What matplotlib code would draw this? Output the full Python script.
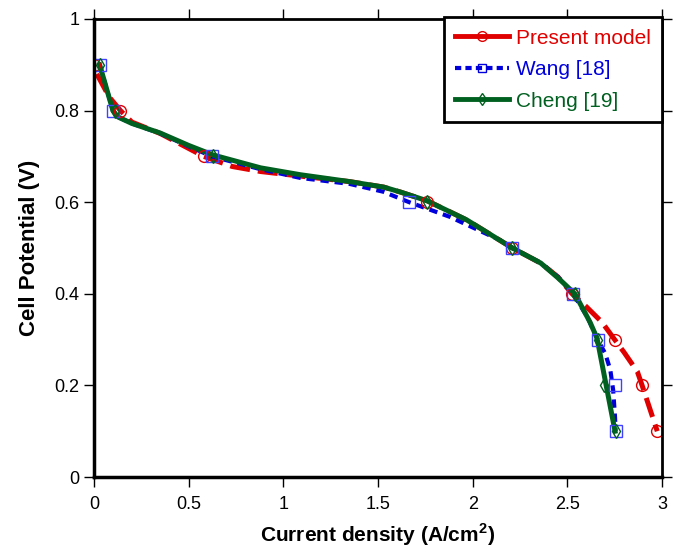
import matplotlib
matplotlib.use('Agg')
import matplotlib.pyplot as plt

plt.rcParams['font.family'] = ['Liberation Sans', 'DejaVu Sans']
plt.rcParams['mathtext.fontset'] = 'custom'
plt.rcParams['mathtext.rm'] = 'Liberation Sans'
plt.rcParams['mathtext.bf'] = 'Liberation Sans:bold'

# measured points (markers)
present_i = [0.0, 0.14, 0.58, 1.76, 2.21, 2.525, 2.75, 2.895, 2.975]
present_v = [0.9, 0.8, 0.7, 0.6, 0.5, 0.4, 0.3, 0.2, 0.1]
wang_i = [0.03, 0.10, 0.623, 1.665, 2.21, 2.53, 2.66, 2.75, 2.755]
wang_v = [0.9, 0.8, 0.7, 0.6, 0.5, 0.4, 0.3, 0.2, 0.1]
cheng_i = [0.03, 0.11, 0.63, 1.76, 2.21, 2.54, 2.66, 2.695, 2.755]
cheng_v = [0.9, 0.8, 0.7, 0.6, 0.5, 0.4, 0.3, 0.2, 0.1]

# smooth curves
present_ci = [0.015, 0.08, 0.14, 0.2, 0.35, 0.58, 0.73, 0.88, 1.09, 1.35, 1.53, 1.62,
              1.76, 1.97, 2.21, 2.36, 2.45, 2.525, 2.6, 2.683, 2.75, 2.8, 2.87, 2.895,
              2.935, 2.975]
present_cv = [0.88, 0.83, 0.8, 0.775, 0.75, 0.7, 0.678, 0.667, 0.657, 0.645, 0.633, 0.622,
              0.603, 0.561, 0.5, 0.467, 0.437, 0.4, 0.372, 0.338, 0.3, 0.272, 0.23, 0.2,
              0.15, 0.1]
wang_ci = [0.03, 0.10, 0.127, 0.2, 0.35, 0.5, 0.623, 0.88, 1.09, 1.35, 1.527, 1.665,
           1.88, 2.145, 2.21, 2.36, 2.45, 2.53, 2.605, 2.66, 2.7, 2.727, 2.742, 2.752, 2.755]
wang_cv = [0.9, 0.8, 0.786, 0.772, 0.75, 0.722, 0.7, 0.672, 0.653, 0.64, 0.623, 0.6,
           0.568, 0.517, 0.5, 0.467, 0.437, 0.4, 0.35, 0.3, 0.27, 0.234, 0.19, 0.13, 0.1]
cheng_ci = [0.03, 0.10, 0.127, 0.2, 0.35, 0.5, 0.63, 0.88, 1.09, 1.35, 1.53, 1.62,
            1.76, 1.97, 2.21, 2.36, 2.45, 2.54, 2.62, 2.657, 2.752]
cheng_cv = [0.9, 0.8, 0.786, 0.772, 0.751, 0.724, 0.703, 0.675, 0.66, 0.645, 0.633, 0.622,
            0.603, 0.561, 0.5, 0.467, 0.435, 0.4, 0.338, 0.303, 0.1]

fig = plt.figure(figsize=(6.78, 5.49), dpi=100)
ax = fig.add_axes([0.1386, 0.1311, 0.8378, 0.8343])

red, blue, green = '#e00000', '#0000dd', '#006020'

ax.plot(present_ci, present_cv, color=red, lw=3.6, ls=(0, (4, 1.6)))
ax.plot(wang_ci, wang_cv, color=blue, lw=3, ls=(0, (2, 1.4)))
ax.plot(cheng_ci, cheng_cv, color=green, lw=3.6)
ax.plot(present_i, present_v, ls='none', marker='o', ms=8.5, mfc='none', mec=red, mew=1)
ax.plot(wang_i, wang_v, ls='none', marker='s', ms=8, mfc='none', mec='#4040ff', mew=1)
ax.plot(cheng_i, cheng_v, ls='none', marker='d', ms=7, mfc='none', mec=green, mew=1)

# legend proxies
h1, = ax.plot([], [], color=red, lw=3.5, marker='o', ms=7, mfc='none', mec=red, mew=1)
h2, = ax.plot([], [], color=blue, lw=3, ls=(0, (1.5, 1)), marker='s', ms=6, mfc='none', mec=blue, mew=1)
h3, = ax.plot([], [], color=green, lw=3.5, marker='d', ms=6, mfc='none', mec=green, mew=1)
leg = ax.legend([h1, h2, h3], ['Present model', 'Wang [18]', 'Cheng [19]'],
                loc='upper right', bbox_to_anchor=(1.0, 1.004), borderaxespad=0,
                fontsize=15, handlelength=2.6, handletextpad=0.3, borderpad=0.55,
                labelspacing=0.6, fancybox=False, framealpha=1, edgecolor='black')
leg.get_frame().set_linewidth(2)
for t, c in zip(leg.get_texts(), [red, blue, green]):
    t.set_color(c)

ax.set_xlim(0, 3)
ax.set_ylim(0, 1)
ax.set_xticks([0, 0.5, 1, 1.5, 2, 2.5, 3])
ax.set_xticklabels(['0', '0.5', '1', '1.5', '2', '2.5', '3'])
ax.set_yticks([0, 0.2, 0.4, 0.6, 0.8, 1])
ax.set_yticklabels(['0', '0.2', '0.4', '0.6', '0.8', '1'])
ax.tick_params(direction='out', length=7, width=1, labelsize=13,
               top=True, right=True)
ax.tick_params(axis='x', pad=7)
ax.tick_params(axis='y', pad=3.5)
for s in ['left', 'bottom']:
    ax.spines[s].set_linewidth(2.5)
for s in ['top', 'right']:
    ax.spines[s].set_linewidth(2)

ax.set_xlabel('Current density (A/cm$^\\mathbf{2}$)', fontsize=15, fontweight='bold', labelpad=6)
ax.set_ylabel('Cell Potential (V)', fontsize=16, fontweight='bold', labelpad=10)

fig.savefig('out.png', dpi=100)
